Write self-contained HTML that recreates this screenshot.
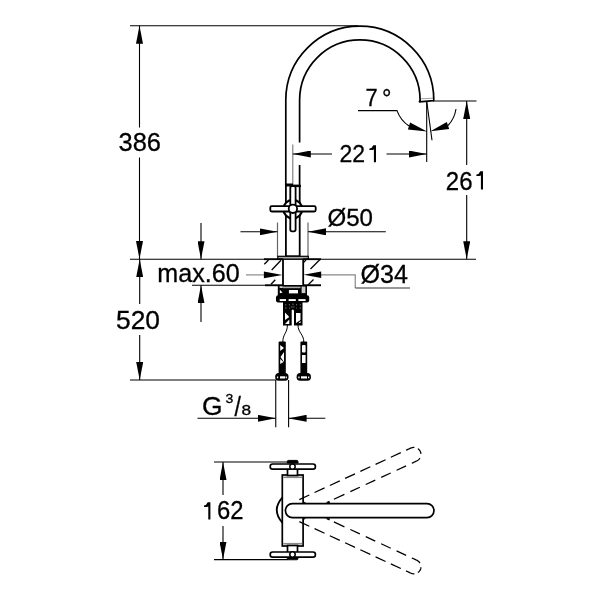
<!DOCTYPE html>
<html><head><meta charset="utf-8">
<style>
html,body{margin:0;padding:0;background:#fff;width:600px;height:600px;overflow:hidden}
svg{display:block;will-change:transform}
text{font-family:"Liberation Sans",sans-serif;fill:#000}
</style></head>
<body>
<svg width="600" height="600" viewBox="0 0 600 600">
<defs>
<marker id="ar" viewBox="0 0 18 7" refX="18" refY="3.5" markerWidth="18" markerHeight="7" markerUnits="userSpaceOnUse" orient="auto">
<path d="M0,0 L18,3.5 L0,7 Z" fill="#000"/>
</marker>
</defs>
<rect width="600" height="600" fill="#fff"/>

<!-- ===== DIMENSION LINES ===== -->
<g stroke="#000" stroke-width="1.1" fill="none">
  <!-- top ext line -->
  <line x1="130" y1="25.8" x2="358" y2="25.8"/>
  <!-- 386 -->
  <line x1="139.5" y1="127.5" x2="139.5" y2="25.7" marker-end="url(#ar)"/>
  <line x1="139.5" y1="157.5" x2="139.5" y2="259" marker-end="url(#ar)"/>
  <!-- counter top -->
  <line x1="130" y1="259.2" x2="476" y2="259.2"/>
  <!-- 520 -->
  <line x1="139.7" y1="304" x2="139.7" y2="259.2" marker-end="url(#ar)"/>
  <line x1="139.7" y1="335" x2="139.7" y2="380" marker-end="url(#ar)"/>
  <line x1="130" y1="380" x2="276" y2="380"/>
  <!-- max.60 -->
  <line x1="201" y1="223" x2="201" y2="259.2" marker-end="url(#ar)"/>
  <line x1="201" y1="322" x2="201" y2="285.3" marker-end="url(#ar)"/>
  <line x1="192" y1="285.3" x2="283" y2="285.3"/>
  <line x1="303" y1="285.3" x2="321" y2="285.3"/>
  <!-- 261 -->
  <line x1="433" y1="101" x2="476.5" y2="101"/>
  <line x1="466.7" y1="165" x2="466.7" y2="101" marker-end="url(#ar)"/>
  <line x1="466.7" y1="195" x2="466.7" y2="259.2" marker-end="url(#ar)"/>
  <!-- 221 -->
  <line x1="292.8" y1="144.5" x2="292.8" y2="184.7" stroke="#777"/>
  <line x1="426.7" y1="101" x2="426.7" y2="162"/>
  <line x1="420" y1="98.9" x2="433.2" y2="98.2" stroke="#999" stroke-width="0.9"/>
  <line x1="332" y1="154" x2="292.8" y2="154" marker-end="url(#ar)"/>
  <line x1="386.5" y1="154" x2="426.7" y2="154" marker-end="url(#ar)"/>
  <!-- 7 deg -->
  <line x1="426.7" y1="101" x2="432" y2="140.3"/>
  <path d="M358,110.6 L397,110.6 A31,31 0 0 0 409,126"/>
  <path d="M456,109 A31,31 0 0 1 448,125.5"/>
  <path d="M427,131.6 L407.9,129.6 L410.1,122.4 Z M430.5,131.3 L449.2,129.1 L446.8,121.9 Z" fill="#000" stroke="none"/>
  <!-- O50 -->
  <line x1="277.5" y1="222.5" x2="277.5" y2="256.5" stroke="#666" stroke-width="1.2"/>
  <line x1="308" y1="222.5" x2="308" y2="256.5" stroke="#666" stroke-width="1.2"/>
  <line x1="240.5" y1="231.8" x2="277.5" y2="231.8" marker-end="url(#ar)"/>
  <line x1="385.8" y1="231.8" x2="308" y2="231.8" marker-end="url(#ar)"/>
  <!-- O34 -->
  <line x1="246" y1="274.9" x2="264" y2="274.9" stroke="#888" stroke-width="1.2"/><path d="M282.5,274.9 L263.9,271.6 L263.9,278.2 Z" fill="#000" stroke="none"/>
  <polyline points="355.25,288 355.25,274.8 321,274.8" stroke="#888" stroke-width="1.2"/><path d="M303.6,274.8 L321.2,271.5 L321.2,278.1 Z" fill="#000" stroke="none"/>
  <line x1="355.25" y1="288" x2="410" y2="288" stroke="#333"/>
  <!-- G 3/8 -->
  <line x1="275.75" y1="380" x2="275.75" y2="427.3"/>
  <line x1="288.6" y1="380" x2="288.6" y2="427.3"/>
  <line x1="197.5" y1="418.3" x2="275.75" y2="418.3" marker-end="url(#ar)"/>
  <line x1="325.3" y1="418.3" x2="288.6" y2="418.3" marker-end="url(#ar)"/>
  <!-- 162 -->
  <line x1="214" y1="462" x2="288" y2="462"/>
  <line x1="214" y1="559.6" x2="288" y2="559.6"/>
  <line x1="223" y1="495" x2="223" y2="462" marker-end="url(#ar)"/>
  <line x1="223" y1="526" x2="223" y2="559.6" marker-end="url(#ar)"/>
</g>

<!-- ===== TEXT ===== -->
<path id="ones" d="M376.0,145.2 L376.0,162.2 L373.9,162.2 L373.9,149.5 Q372.5,150.1 369.4,150.0 L369.4,148.5 Q372.2,148.1 373.3,145.2 Z M483.0,171.2 L483.0,189.5 L480.9,189.5 L480.9,175.5 Q479.5,176.1 476.4,176.0 L476.4,174.5 Q479.2,174.1 480.3,171.2 Z M210.4,502.2 L210.4,519.6 L208.3,519.6 L208.3,506.5 Q206.9,507.1 204.0,507.0 L204.0,505.5 Q206.6,505.1 207.7,502.2 Z" fill="#000"/>
<g id="texts" stroke="#000" stroke-width="0.3">
  <text x="118.50" y="151.40" font-size="26.35" textLength="42.44" lengthAdjust="spacingAndGlyphs">386</text>
  <text x="116.00" y="329.00" font-size="25.00" textLength="43.96" lengthAdjust="spacingAndGlyphs">520</text>
  <text x="157.25" y="282.00" font-size="24.96" textLength="82.36" lengthAdjust="spacingAndGlyphs">max.60</text>
  <text x="339.50" y="162.00" font-size="23.80" textLength="25.61" lengthAdjust="spacingAndGlyphs">22</text>
  <text x="445.80" y="189.50" font-size="25.95" textLength="26.72" lengthAdjust="spacingAndGlyphs">26</text>
  <text x="217.05" y="519.40" font-size="26.14" textLength="26.51" lengthAdjust="spacingAndGlyphs">62</text>
  <text x="327.50" y="226.00" font-size="24.83" textLength="45.45" lengthAdjust="spacingAndGlyphs">Ø50</text>
  <text x="360.50" y="282.80" font-size="25.13" textLength="47.43" lengthAdjust="spacingAndGlyphs">Ø34</text>
  <text x="365.50" y="106.00" font-size="23.61" textLength="12.15" lengthAdjust="spacingAndGlyphs">7</text>
  <text x="382.00" y="106.50" font-size="26.67" textLength="9.46" lengthAdjust="spacingAndGlyphs">°</text>
  <text x="202.00" y="414.80" font-size="26.07" textLength="20.55" lengthAdjust="spacingAndGlyphs">G</text>
  <text x="225.50" y="403.10" font-size="13.17" textLength="7.82" lengthAdjust="spacingAndGlyphs">3</text>
  <text x="234.60" y="415.50" font-size="27.30" textLength="6.38" lengthAdjust="spacingAndGlyphs">/</text>
  <text x="241.50" y="415.00" font-size="13.83" textLength="9.61" lengthAdjust="spacingAndGlyphs">8</text>
</g>

<!-- ===== SPOUT (elevation) ===== -->
<g stroke="#000" stroke-width="1.7" fill="none" stroke-linejoin="round">
  <path d="M285.8,186 L285.8,100.2 A74,74 0 0 1 433.8,100.2 L433.4,100.6 L419.4,101.8 L420.1,100.2 A60.25,60.25 0 0 0 299.6,100.2 L299.6,142.5 M299.6,165 L299.6,186"/>
</g>

<!-- handle body -->
<g stroke="#000" stroke-width="1.8" fill="#fff">
  <rect x="285.9" y="185.5" width="13.8" height="70.8"/>
  <line x1="285.1" y1="184.8" x2="293" y2="184.8" stroke-width="2.6"/>
  <line x1="292.7" y1="186.2" x2="300.9" y2="186.2" stroke-width="1.8"/>
  <circle cx="292.8" cy="209.2" r="9.4" stroke-width="2.2"/>
  <rect x="290.3" y="186" width="5.3" height="45.4" rx="1.8"/>
  <rect x="270.3" y="206.1" width="45.4" height="5.4" rx="1.4"/>
  <circle cx="292.9" cy="208.8" r="4.2"/>
  <!-- base plate -->
  <rect x="277.8" y="256.3" width="30.5" height="2.8" fill="#aaa" stroke-width="1.2"/>
  <!-- tube through counter -->
  <line x1="283" y1="259" x2="283" y2="285.3"/>
  <line x1="303.2" y1="259" x2="303.2" y2="285.3"/>
</g>
<!-- lower fittings -->
<g>
  <rect x="277.8" y="285" width="29.2" height="11.5" fill="#000"/>
  <rect x="279.6" y="286.2" width="3.2" height="1.6" fill="#fff"/>
  <rect x="283" y="286.6" width="17.5" height="1.6" fill="#aaa"/>
  <rect x="301.6" y="286.5" width="3.8" height="6.6" fill="#ccc"/>
  <rect x="288.9" y="290" width="9.1" height="3.4" fill="#fff"/>
  <path d="M279.8,289.8 L282.6,292.6 L279.8,293.2 Z" fill="#fff"/>
  <rect x="276" y="295.3" width="33.2" height="7.2" rx="2.2" fill="#000"/>
  <rect x="279.7" y="299.1" width="6.3" height="1.9" fill="#fff"/>
  <rect x="288.6" y="299.1" width="7.2" height="1.9" fill="#fff"/>
  <rect x="298.4" y="299.1" width="7.2" height="1.9" fill="#fff"/>
  <rect x="283" y="302" width="19.5" height="23.5" fill="#000"/>
  <path d="M291.7,326 L291.7,310.5 Q292.85,308.6 294,310.5 L294,326 Z" fill="#fff"/>
  <path d="M285.2,304 h1.2 v1.6 h-1.2 Z M288.8,304 h1.2 v1.4 h-1.2 Z M292.3,303.6 h1.4 v1.6 h-1.4 Z M296,304 h1.2 v1.4 h-1.2 Z M299.8,304 h1.2 v1.6 h-1.2 Z M285.2,307.3 h1.2 v1.8 h-1.2 Z M289,307.6 h1 v1.2 h-1 Z M296.2,307.6 h1 v1.2 h-1 Z M299.8,307.3 h1.2 v1.8 h-1.2 Z M290.5,306.6 h4 v0.8 h-4 Z" fill="#555"/>
  <path d="M285,312.5 L289.3,317 L285,320 Z M285,324 L289.3,319.5 L289.3,324 Z" fill="#fff"/>
  <path d="M296,313 L300.5,313 L300.5,320 L296,323 Z M298.5,323 L300.5,321 L300.5,323 Z" fill="#fff"/>
  <path d="M287.4,325 C287.4,333 282.8,334 282.8,342 M298,325 C298,333 303.8,334 303.8,342" stroke="#000" stroke-width="1" fill="none"/>
  <rect x="278.6" y="341.5" width="7.2" height="32.5" rx="1" fill="#000"/>
  <path d="M280.2,345 L284,348 L280.2,351 Z M284,352 L280.5,357 L284,362 Z M280.2,359 L283.5,362 L280.2,364 Z" fill="#fff"/>
  <rect x="300.4" y="341.5" width="6.8" height="32.5" rx="1" fill="#000"/>
  <rect x="302" y="345" width="3.6" height="7.5" rx="1" fill="#fff"/>
  <rect x="302" y="355" width="3.6" height="8" fill="#fff"/>
  <rect x="275.2" y="373" width="13.3" height="7.8" rx="3.5" fill="#000"/>
  <rect x="280" y="376.3" width="5" height="2.2" fill="#fff"/>
  <rect x="296.6" y="373" width="14.3" height="7.8" rx="3.5" fill="#000"/>
  <rect x="301" y="376.3" width="6" height="2.2" fill="#fff"/>
  <path d="M276.9,376.6 h1.3 v1.6 h-1.3 Z M285.6,376.6 h1.3 v1.6 h-1.3 Z M298.3,376.6 h1.3 v1.6 h-1.3 Z M308,376.6 h1.3 v1.6 h-1.3 Z" fill="#fff"/>
</g>
<!-- ===== PLAN VIEW ===== -->
<g stroke="#000" stroke-width="1.7" fill="#fff">
  <rect x="282.3" y="475" width="20.8" height="71"/>
  <line x1="283.2" y1="477.3" x2="302.2" y2="477.3" stroke="#888" stroke-width="1.6"/>
  <line x1="283.2" y1="543.7" x2="302.2" y2="543.7" stroke="#888" stroke-width="1.6"/>
  <path d="M282.5,497.3 Q271,510 282.5,522.9" fill="none" stroke-width="1.8"/>
  <path d="M287.3,463 L287.3,461.5 Q287.3,460.4 288.5,460.4 L296.8,460.4 Q298,460.4 298,461.5 L298,463 Z" fill="#000" stroke-width="1"/>
  <path d="M287.3,557 L287.3,558.6 Q287.3,559.8 288.5,559.8 L296.8,559.8 Q298,559.8 298,558.6 L298,557 Z" fill="#000" stroke-width="0.8"/>
  <rect x="287.5" y="468" width="10" height="7.5"/>
  <rect x="287.5" y="545.5" width="10" height="7.5"/>
  <rect x="270.2" y="464" width="45.2" height="5.2" rx="2.4"/>
  <circle cx="292.5" cy="466.6" r="2.7" stroke-width="1.5"/>
  <rect x="270.2" y="552" width="45.2" height="5.2" rx="2.4"/>
  <circle cx="292.5" cy="554.5" r="2.7" stroke-width="1.5"/>
  <path d="M427,503.6 L292.4,503.6 A7,7 0 0 0 292.4,517.6 L427,517.6 A7,7 0 0 0 427,503.6 Z"/>
</g>
<path id="dashes" d="M299.32,499.58 L309.30,494.97 M314.57,492.54 L324.55,487.92 M329.82,485.49 L339.80,480.88 M345.07,478.44 L355.05,473.83 M360.32,471.40 L370.30,466.78 M375.57,464.35 L385.56,459.73 M390.82,457.30 L400.81,452.69 M406.07,450.26 L406.97,449.84 L407.87,449.43 L408.76,449.01 L409.66,448.60 L410.56,448.18 L411.47,447.79 L412.42,447.53 L413.40,447.39 L414.39,447.40 M417.88,448.63 L418.60,449.19 L419.23,449.83 L419.78,450.56 L420.23,451.34 L420.58,452.18 L420.82,453.05 L420.94,453.95 M419.93,458.16 L419.37,458.95 L418.71,459.66 L417.96,460.28 L417.13,460.78 L416.25,461.19 L415.37,461.60 L414.49,462.01 L413.61,462.41 L412.73,462.82 L411.85,463.23 M406.13,465.87 L396.60,470.27 M390.70,473.00 L381.17,477.40 M375.27,480.13 L365.74,484.54 M359.84,487.26 L350.30,491.67 M344.40,494.39 L333.87,499.26 M329.42,501.31 L326.88,502.49 M299.32,521.62 L309.30,526.23 M314.57,528.66 L324.55,533.28 M329.82,535.71 L339.80,540.32 M345.07,542.76 L355.05,547.37 M360.32,549.80 L370.30,554.42 M375.57,556.85 L385.56,561.47 M390.82,563.90 L400.81,568.51 M406.07,570.94 L406.97,571.36 L407.87,571.77 L408.76,572.19 L409.66,572.60 L410.56,573.02 L411.47,573.41 L412.42,573.67 L413.40,573.81 L414.39,573.80 M417.88,572.57 L418.60,572.01 L419.23,571.37 L419.78,570.64 L420.23,569.86 L420.58,569.02 L420.82,568.15 L420.94,567.25 M419.93,563.04 L419.37,562.25 L418.71,561.54 L417.96,560.92 L417.13,560.42 L416.25,560.01 L415.37,559.60 L414.49,559.19 L413.61,558.79 L412.73,558.38 L411.85,557.97 M406.13,555.33 L396.60,550.93 M390.70,548.20 L381.17,543.80 M375.27,541.07 L365.74,536.66 M359.84,533.94 L350.30,529.53 M344.40,526.81 L333.87,521.94 M329.42,519.89 L326.88,518.71" stroke="#000" stroke-width="1.25" fill="none"/>
<path d="M303,498.5 Q303.5,502.5 306.5,503 L303,503 Z M303,522.7 Q303.5,518.7 306.5,518.2 L303,518.2 Z M325,503 Q327.5,502.5 329.5,501.5 L330,503 Z M325,518.2 Q327.5,518.7 329.5,519.7 L330,518.2 Z" fill="#000"/>
<!-- counter section outline -->
<g stroke="#000" stroke-width="1.8">
  <line x1="264" y1="259.2" x2="283" y2="259.2"/>
  <line x1="303" y1="259.2" x2="321" y2="259.2"/>
  <line x1="265" y1="285.3" x2="283" y2="285.3"/>
  <line x1="303" y1="285.3" x2="321" y2="285.3"/>
</g>
<!-- hatching -->
<g stroke="#000" stroke-width="1.3">
  <line x1="264.3" y1="264.3" x2="268.5" y2="260"/>
  <line x1="271.7" y1="270" x2="281" y2="260.3"/>
  <line x1="271" y1="284.3" x2="275.3" y2="279.7"/>
  <line x1="303.5" y1="262.5" x2="306" y2="260"/>
  <line x1="310.5" y1="269" x2="320" y2="259.5"/>
  <line x1="308" y1="285" x2="313.5" y2="279.5"/>
</g>

</svg>
</body></html>
